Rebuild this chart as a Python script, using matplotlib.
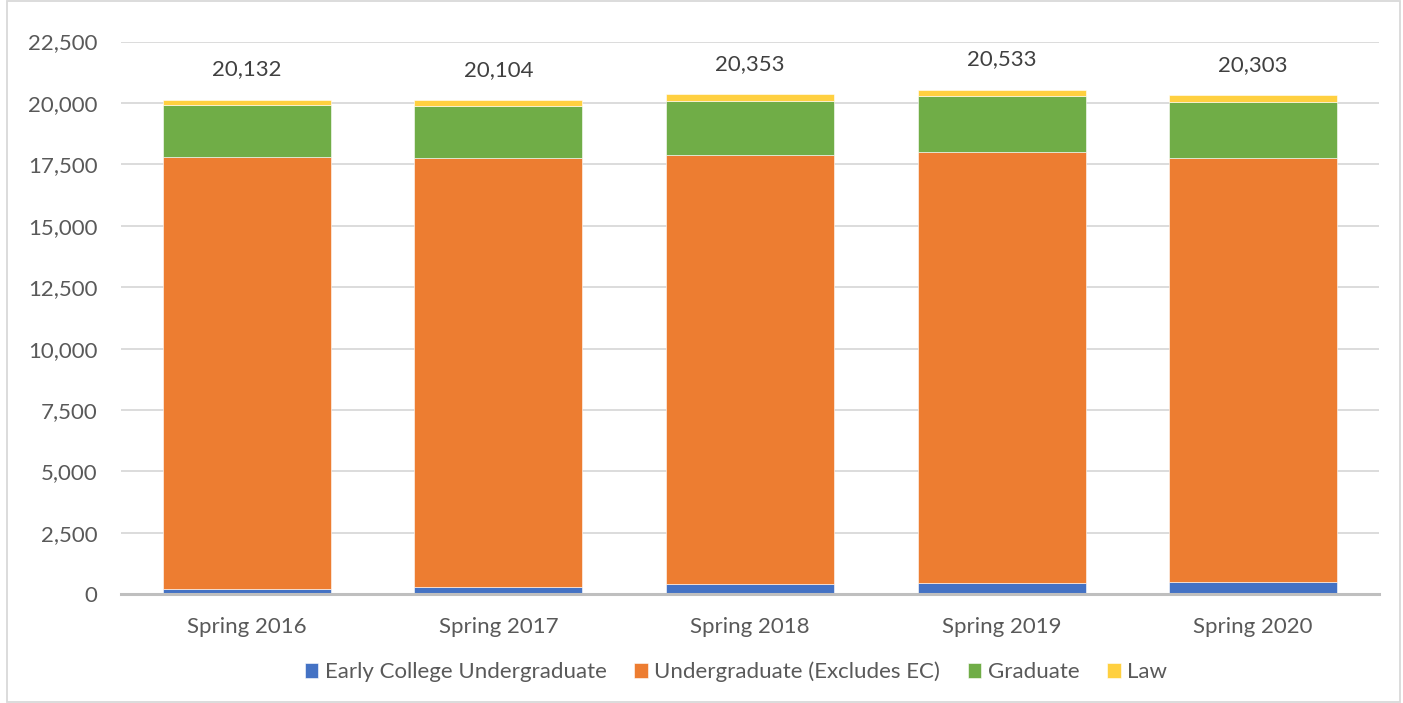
import matplotlib
matplotlib.use("Agg")
import matplotlib.pyplot as plt
from matplotlib.patches import Rectangle
import numpy as np

categories = ["Spring 2016", "Spring 2017", "Spring 2018", "Spring 2019", "Spring 2020"]
early_college = [220, 285, 430, 470, 515]
undergrad = [17581, 17475, 17440, 17530, 17231]
graduate = [2101, 2118, 2224, 2285, 2294]
law = [230, 226, 259, 248, 263]
series_names = ["Early College Undergraduate", "Undergraduate (Excludes EC)", "Graduate", "Law"]
colors = ["#4472C4", "#ED7D31", "#70AD47", "#FFD040"]
yticks = [0, 2500, 5000, 7500, 10000, 12500, 15000, 17500, 20000, 22500]

plt.rcParams['font.family'] = ['Lato', 'DejaVu Sans']

fig = plt.figure(figsize=(14.03, 7.03), dpi=100)
ax = fig.add_axes([121/1403, 1-594.3/703, (1379-121)/1403, (594.3-41.5)/703])

x = np.arange(len(categories))
series = [early_college, undergrad, graduate, law]
bottom = np.zeros(len(categories))
for vals, name, c in zip(series, series_names, colors):
    ax.bar(x, vals, width=0.667, bottom=bottom, color=c, label=name,
           edgecolor="white", linewidth=0.4, zorder=3)
    bottom += np.array(vals)

for xi, tot in zip(x, bottom):
    ax.annotate(f"{int(tot):,}", (xi, tot), xytext=(0, 22), textcoords="offset points",
                ha="center", va="center", fontsize=16, color="#404040")

ax.set_xlim(-0.5, len(categories) - 0.5)
ax.set_ylim(0, 22500)
ax.set_yticks(yticks)
ax.set_yticklabels([f"{v:,}" for v in yticks])
ax.set_xticks(x)
ax.set_xticklabels(categories)
ax.tick_params(axis="y", length=0, pad=17, labelsize=16, labelcolor="#595959")
ax.tick_params(axis="x", length=0, pad=16, labelsize=16, labelcolor="#595959")
ax.grid(axis="y", color="#D9D9D9", linewidth=1.3, zorder=0)
for s in ["top", "right", "left"]:
    ax.spines[s].set_visible(False)
ax.spines["bottom"].set_color("#BFBFBF")
ax.spines["bottom"].set_linewidth(2.2)
ax.spines["bottom"].set_zorder(4)

leg = fig.legend(loc="center", bbox_to_anchor=(736/1403, 1-672/703), ncol=4, frameon=False,
                 fontsize=16, handlelength=0.6, handleheight=0.6, handletextpad=0.3,
                 columnspacing=1.25, labelcolor="#595959")

fig.patches.append(Rectangle((7/1403, 0.002), (1400-7)/1403, 0.996, transform=fig.transFigure,
                             fill=False, edgecolor="#D9D9D9", linewidth=1.3))

fig.savefig("out.png", dpi=100)
